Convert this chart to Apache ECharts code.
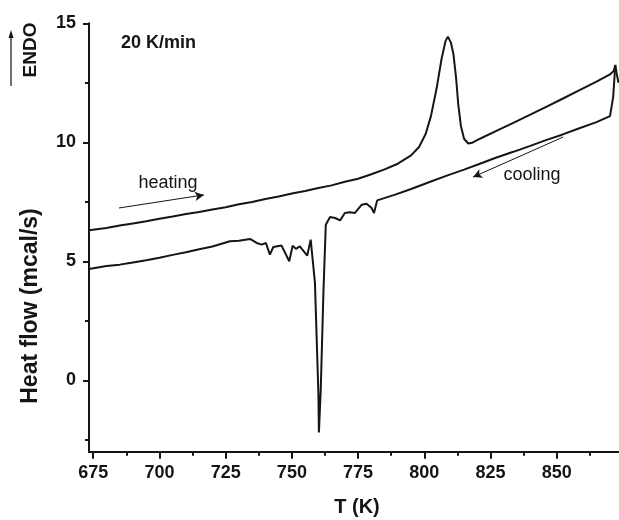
<!DOCTYPE html>
<html>
<head>
<meta charset="utf-8">
<title>DSC heating / cooling</title>
<script src="https://cdn.jsdelivr.net/npm/echarts@6/dist/echarts.min.js"></script>
<style>
  html, body { margin: 0; padding: 0; background: #fff; }
  #chart { width: 619px; height: 520px; }
</style>
</head>
<body>
<div id="chart"></div>
<script>
// heating run (upper trace), T in K, heat flow in mcal/s
var heatT = [673.4, 680, 685, 690, 695, 700, 705, 710, 715, 720, 725, 730, 735, 740, 745, 750, 755, 760, 765, 770, 775, 780, 785, 790, 795, 798, 800.5, 802.5, 804.7, 806.5, 808, 808.9, 810, 811, 812, 812.8, 813.8, 815, 816.6, 818, 821, 827, 833.6, 840, 846.2, 852, 858.8, 865, 870.1, 871.5, 872.1, 872.6, 873.3];
var heatV = [6.30, 6.40, 6.50, 6.59, 6.68, 6.79, 6.88, 6.99, 7.07, 7.18, 7.27, 7.40, 7.49, 7.62, 7.72, 7.85, 7.95, 8.08, 8.19, 8.34, 8.47, 8.66, 8.86, 9.10, 9.45, 9.80, 10.35, 11.10, 12.30, 13.50, 14.25, 14.44, 14.20, 13.70, 12.70, 11.60, 10.70, 10.15, 9.95, 9.98, 10.15, 10.47, 10.82, 11.16, 11.50, 11.82, 12.20, 12.55, 12.85, 13.00, 13.25, 12.90, 12.50];

// cooling run (lower trace), listed from high to low T
var coolT = [872.1, 871.3, 870.1, 865, 858.8, 852, 846.2, 840, 833.6, 827, 821, 815, 808.5, 802, 795, 789, 782.2, 781, 780.1, 778.2, 776.4, 773.8, 771.9, 770, 768.2, 766.3, 764.4, 762.8, 761.9, 760.9, 760.2, 760, 758.7, 757.1, 755.8, 753, 751.5, 750.3, 749, 746.1, 743, 741.7, 740.2, 738.6, 736.7, 734.2, 730, 726.6, 720, 715, 710, 705, 700, 695, 690, 685, 680, 673.4];
var coolV = [13.25, 11.90, 11.10, 10.85, 10.60, 10.32, 10.10, 9.85, 9.60, 9.35, 9.10, 8.85, 8.60, 8.33, 8.04, 7.80, 7.56, 7.03, 7.24, 7.42, 7.38, 7.03, 7.06, 7.03, 6.72, 6.82, 6.86, 6.54, 3.68, -0.38, -2.19, -0.52, 4.10, 5.91, 5.24, 5.63, 5.52, 5.66, 5.00, 5.66, 5.60, 5.28, 5.77, 5.70, 5.77, 5.94, 5.86, 5.84, 5.62, 5.51, 5.38, 5.27, 5.15, 5.04, 4.95, 4.86, 4.80, 4.68];

// tick values
var xMajor = [675, 700, 725, 750, 775, 800, 825, 850];
var xMinor = [687.5, 712.5, 737.5, 762.5, 787.5, 812.5, 837.5, 862.5];
var yMajor = [0, 5, 10, 15];
var yMinor = [-2.5, 2.5, 7.5, 12.5];

// arrows next to the traces, in data units [T, V]
var heatArrow = [[684.7, 7.24], [716.8, 7.79]];
var coolArrow = [[852.4, 10.22], [818.4, 8.54]];

var ink = "#151515";
var font = "Liberation Sans";

function pairs(t, v) {
  return t.map(function (x, i) {
    return [x, v[i]];
  });
}

function arrowLine(seg) {
  return [{ coord: seg[0], symbol: "none" }, { coord: seg[1], symbol: "arrow" }];
}

var chart = echarts.init(document.getElementById("chart"));

var option = {
  animation: false,
  backgroundColor: "#fff",
  grid: {
    left: 89,
    right: 0,
    top: 23.3,
    bottom: 68.3,
    containLabel: false,
    outerBoundsMode: "none"
  },
  xAxis: [
    {
      type: "value",
      min: 673.4,
      max: 873.5,
      position: "bottom",
      axisLine: { onZero: false, lineStyle: { color: ink, width: 2 } },
      axisTick: { customValues: xMajor, length: 7, lineStyle: { color: ink, width: 2 } },
      axisLabel: {
        customValues: xMajor,
        margin: 12,
        color: ink,
        fontSize: 18,
        fontWeight: "bold",
        fontFamily: font
      },
      splitLine: { show: false }
    },
    {
      // minor ticks only
      type: "value",
      min: 673.4,
      max: 873.5,
      position: "bottom",
      axisLine: { show: false, onZero: false },
      axisTick: { customValues: xMinor, length: 4, lineStyle: { color: ink, width: 2 } },
      axisLabel: { show: false },
      splitLine: { show: false }
    }
  ],
  yAxis: [
    {
      type: "value",
      min: -3,
      max: 15,
      position: "left",
      axisLine: { show: true, onZero: false, lineStyle: { color: ink, width: 2 } },
      axisTick: { show: true, customValues: yMajor, length: 6, lineStyle: { color: ink, width: 2 } },
      axisLabel: {
        customValues: yMajor,
        margin: 13,
        color: ink,
        fontSize: 18,
        fontWeight: "bold",
        fontFamily: font
      },
      splitLine: { show: false }
    },
    {
      type: "value",
      min: -3,
      max: 15,
      position: "left",
      axisLine: { show: false, onZero: false },
      axisTick: { show: true, customValues: yMinor, length: 4, lineStyle: { color: ink, width: 2 } },
      axisLabel: { show: false },
      splitLine: { show: false }
    }
  ],
  series: [
    {
      name: "heating",
      type: "line",
      showSymbol: false,
      symbol: "none",
      lineStyle: { color: ink, width: 2 },
      data: pairs(heatT, heatV),
      markLine: {
        silent: true,
        symbolSize: [7, 9],
        label: { show: false },
        lineStyle: { color: ink, width: 1, type: "solid" },
        data: [arrowLine(heatArrow)]
      }
    },
    {
      name: "cooling",
      type: "line",
      showSymbol: false,
      symbol: "none",
      lineStyle: { color: ink, width: 2 },
      data: pairs(coolT, coolV),
      markLine: {
        silent: true,
        symbolSize: [7, 9],
        label: { show: false },
        lineStyle: { color: ink, width: 1, type: "solid" },
        data: [arrowLine(coolArrow)]
      }
    }
  ],
  graphic: [
    {
      type: "text",
      left: 121,
      top: 34,
      style: { text: "20 K/min", fill: ink, font: "bold 18px " + font }
    },
    {
      type: "text",
      x: 168,
      y: 183,
      style: { text: "heating", fill: ink, font: "18px " + font, textAlign: "center", textVerticalAlign: "middle" }
    },
    {
      type: "text",
      x: 532,
      y: 175,
      style: { text: "cooling", fill: ink, font: "18px " + font, textAlign: "center", textVerticalAlign: "middle" }
    },
    {
      type: "text",
      x: 357,
      y: 507,
      style: { text: "T (K)", fill: ink, font: "bold 20px " + font, textAlign: "center", textVerticalAlign: "middle" }
    },
    {
      type: "text",
      x: 31,
      y: 306,
      rotation: Math.PI / 2,
      style: { text: "Heat flow (mcal/s)", fill: ink, font: "bold 23px " + font, textAlign: "center", textVerticalAlign: "middle" }
    },
    {
      type: "text",
      x: 31,
      y: 50,
      rotation: Math.PI / 2,
      style: { text: "ENDO", fill: ink, font: "bold 19px " + font, textAlign: "center", textVerticalAlign: "middle" }
    },
    {
      // ENDO arrow
      type: "line",
      shape: { x1: 11, y1: 86, x2: 11, y2: 36 },
      style: { stroke: ink, lineWidth: 1.2 }
    },
    {
      type: "polygon",
      shape: { points: [[11, 30], [8.5, 38], [13.5, 38]] },
      style: { fill: ink }
    }
  ]
};

chart.setOption(option);
</script>
</body>
</html>
